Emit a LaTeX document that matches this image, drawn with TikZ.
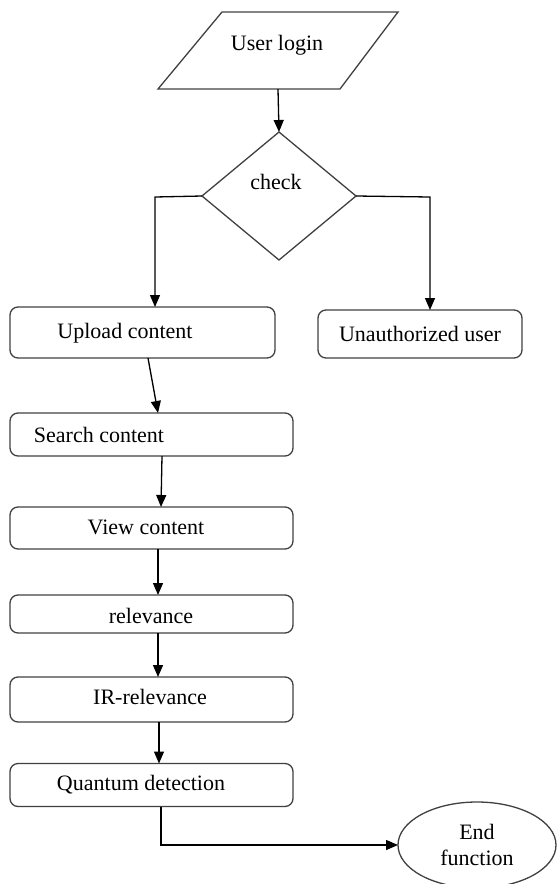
\documentclass[tikz,border=0pt]{standalone}
\usepackage{fontspec}
\setmainfont{Liberation Serif}
\usetikzlibrary{shapes.geometric,arrows.meta}
\begin{document}
\begin{tikzpicture}[x=1pt,y=-1pt,
  every node/.style={font=\fontsize{22}{26}\selectfont, inner sep=0pt, outer sep=0pt},
  box/.style={draw=black!75, line width=1.3pt, rounded corners=8pt, rectangle},
  shapeline/.style={draw=black!75, line width=1.3pt},
  txt/.style={text=black},
  conn/.style={draw=black, line width=1.3pt},
  arr/.style={conn, -{Triangle[length=12pt,width=10pt]}}]
\useasboundingbox (0,0) rectangle (557,884);
% shapes
\node[rectangle, minimum width=240pt, minimum height=77pt] (login) at (278,50.5) {};
\draw[shapeline] (222,12) -- (398,12) -- (340,89) -- (158,89) -- cycle;
\node[txt] (logintxt) at (277,45) {User login};
\node[shapeline, diamond, inner sep=2pt, minimum width=154pt, minimum height=128pt] (dia) at (279,196) {};
\node[txt] (chk) at (276,182) {check};
\node[box, minimum width=265pt, minimum height=51pt] (upload) at (142.5,332.5) {};
\node[txt] (uploadtxt) at (125,333) {Upload content};
\node[box, minimum width=204pt, minimum height=48pt] (unauth) at (420,334) {Unauthorized user};
\node[box, minimum width=283pt, minimum height=43pt] (search) at (151.5,434.5) {};
\node[txt] (searchtxt) at (99,435) {Search content};
\node[box, minimum width=283pt, minimum height=42pt] (view) at (151.5,528) {};
\node[txt] (viewtxt) at (146,527) {View content};
\node[box, minimum width=283pt, minimum height=38pt] (relev) at (151.5,614) {};
\node[txt] (relevtxt) at (151,616) {relevance};
\node[box, minimum width=283pt, minimum height=45pt] (ir) at (151.5,699.5) {};
\node[txt] (irtxt) at (150,697) {IR-relevance};
\node[box, minimum width=283pt, minimum height=43pt] (quantum) at (151.5,785) {};
\node[txt] (quantumtxt) at (141,785) {Quantum detection};
\node[shapeline, ellipse, minimum width=158pt, minimum height=86pt, align=center] (endf) at (477,845) {End\\function};
% connectors
\draw[arr] (login.south) -- (dia.north);
\coordinate (lc) at (155,197);
\draw[arr] (dia.west) -- (lc) -- (lc |- upload.north);
\coordinate (rc) at (430,197);
\draw[arr] (dia.east) -- (rc) -- (rc |- unauth.north);
\draw[arr] ([xshift=5.5pt]upload.south) -- ([xshift=6.5pt]search.north);
\draw[arr] ([xshift=10.5pt]search.south) -- ([xshift=9.5pt]view.north);
\draw[arr] ([xshift=6.5pt]view.south) -- ([xshift=6.5pt]relev.north);
\draw[arr] ([xshift=6.5pt]relev.south) -- ([xshift=6.5pt]ir.north);
\draw[arr] ([xshift=7.5pt]ir.south) -- ([xshift=7.5pt]quantum.north);
\coordinate (qb) at ([xshift=9.5pt]quantum.south);
\draw[arr] (qb) -- (qb |- endf.west) -- (endf.west);
\end{tikzpicture}
\end{document}
